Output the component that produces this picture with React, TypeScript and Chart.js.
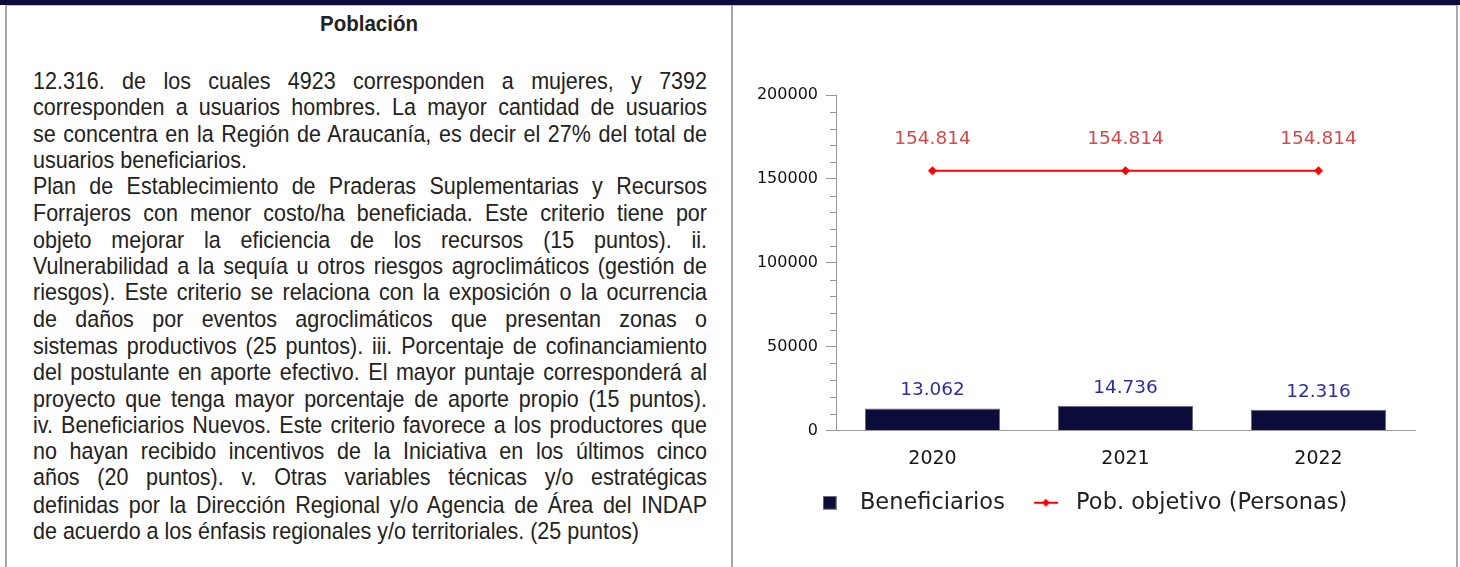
import React, { useEffect, useRef } from 'react';
import { Chart, registerables } from 'chart.js';

Chart.register(...registerables);

const categories = ['2020', '2021', '2022'];
const beneficiarios = [13062, 14736, 12316];
const pobObjetivo = [154814, 154814, 154814];
const seriesNames = ['Beneficiarios', 'Pob. objetivo (Personas)'];
const yMin = 0;
const yMax = 200000;
const yMajorStep = 50000;
const yMinorStep = 10000;

const headerTitle = 'Población';
const textLines = [
  '12.316. de los cuales 4923 corresponden a mujeres, y 7392',
  'corresponden a usuarios hombres. La mayor cantidad de usuarios',
  'se concentra en la Región de Araucanía, es decir el 27% del total de',
  'usuarios beneficiarios.',
  'Plan de Establecimiento de Praderas Suplementarias y Recursos',
  'Forrajeros con menor costo/ha beneficiada. Este criterio tiene por',
  'objeto mejorar la eficiencia de los recursos (15 puntos). ii.',
  'Vulnerabilidad a la sequía u otros riesgos agroclimáticos (gestión de',
  'riesgos). Este criterio se relaciona con la exposición o la ocurrencia',
  'de daños por eventos agroclimáticos que presentan zonas o',
  'sistemas productivos (25 puntos). iii. Porcentaje de cofinanciamiento',
  'del postulante en aporte efectivo. El mayor puntaje corresponderá al',
  'proyecto que tenga mayor porcentaje de aporte propio (15 puntos).',
  'iv. Beneficiarios Nuevos. Este criterio favorece a los productores que',
  'no hayan recibido incentivos de la Iniciativa en los últimos cinco',
  'años (20 puntos). v. Otras variables técnicas y/o estratégicas',
  'definidas por la Dirección Regional y/o Agencia de Área del INDAP',
  'de acuerdo a los énfasis regionales y/o territoriales. (25 puntos)',
];
const paragraphEndLines = [3, 17];

const BAR_COLOR = '#0c0c3a';
const LINE_COLOR = '#ff0000';
const CHART_FONT = '"DejaVu Sans", Verdana, sans-serif';

const fmt = (v: number) => String(v).replace(/\B(?=(\d{3})+(?!\d))/g, '.');

function makeSquareMarker() {
  const c = document.createElement('canvas');
  c.width = 14;
  c.height = 14;
  const g = c.getContext('2d')!;
  g.fillStyle = BAR_COLOR;
  g.fillRect(0, 0, 14, 14);
  g.strokeStyle = '#8a8a8a';
  g.lineWidth = 1;
  g.strokeRect(0.5, 0.5, 13, 13);
  return c;
}

function makeLineMarker() {
  const c = document.createElement('canvas');
  c.width = 24;
  c.height = 10;
  const g = c.getContext('2d')!;
  g.strokeStyle = LINE_COLOR;
  g.lineWidth = 2;
  g.beginPath();
  g.moveTo(0, 5);
  g.lineTo(24, 5);
  g.stroke();
  g.fillStyle = LINE_COLOR;
  g.beginPath();
  g.moveTo(12, 1);
  g.lineTo(16, 5);
  g.lineTo(12, 9);
  g.lineTo(8, 5);
  g.closePath();
  g.fill();
  return c;
}

const valueLabels = {
  id: 'valueLabels',
  afterDatasetsDraw(chart: any) {
    const ctx = chart.ctx;
    chart.data.datasets.forEach((ds: any, i: number) => {
      const meta = chart.getDatasetMeta(i);
      const isBar = meta.type === 'bar';
      meta.data.forEach((el: any, j: number) => {
        const { x, y } = el.getProps(['x', 'y'], true);
        ctx.save();
        ctx.font = `18.5px ${CHART_FONT}`;
        ctx.fillStyle = isBar ? '#2f2f9c' : '#d44a4a';
        ctx.textAlign = 'center';
        ctx.textBaseline = 'middle';
        ctx.fillText(fmt(ds.data[j]), x, y - (isBar ? 18 : 32));
        ctx.restore();
      });
    });
  },
};

const minorTicks = {
  id: 'minorTicks',
  afterDraw(chart: any) {
    const s = chart.scales.y;
    const ctx = chart.ctx;
    ctx.save();
    ctx.strokeStyle = '#999';
    ctx.lineWidth = 1;
    ctx.beginPath();
    for (let v = yMin; v <= yMax; v += yMinorStep) {
      if (v % yMajorStep === 0) continue;
      const y = Math.round(s.getPixelForValue(v)) + 0.5;
      ctx.moveTo(s.right - 6, y);
      ctx.lineTo(s.right, y);
    }
    ctx.stroke();
    ctx.restore();
  },
};

function ChartPanel() {
  const ref = useRef<HTMLCanvasElement>(null);
  useEffect(() => {
    if (!ref.current) return;
    const square = makeSquareMarker();
    const lineMarker = makeLineMarker();
    const chart = new Chart(ref.current, {
      type: 'bar',
      data: {
        labels: categories,
        datasets: [
          {
            type: 'line' as any,
            label: seriesNames[1],
            data: pobObjetivo,
            borderColor: LINE_COLOR,
            backgroundColor: LINE_COLOR,
            borderWidth: 2,
            pointStyle: 'rectRot',
            pointRadius: 4.5,
            pointBackgroundColor: LINE_COLOR,
            pointBorderWidth: 0,
            order: 1,
          } as any,
          {
            type: 'bar',
            label: seriesNames[0],
            data: beneficiarios,
            backgroundColor: BAR_COLOR,
            borderColor: '#6a6a7a',
            borderWidth: 1,
            categoryPercentage: 1,
            barPercentage: 0.7,
            order: 2,
          },
        ],
      },
      options: {
        animation: false,
        responsive: true,
        maintainAspectRatio: false,
        layout: { padding: { left: 10, right: 40, top: 89, bottom: 43 } },
        plugins: {
          tooltip: { enabled: false },
          legend: {
            position: 'bottom',
            labels: {
              usePointStyle: true,
              pointStyleWidth: 38,
              boxHeight: 14,
              padding: 22,
              color: '#222',
              font: { family: CHART_FONT, size: 22.5 },
              generateLabels: () =>
                seriesNames.map((name, i) => ({
                  text: name,
                  pointStyle: i === 0 ? square : lineMarker,
                  fillStyle: i === 0 ? BAR_COLOR : LINE_COLOR,
                  strokeStyle: i === 0 ? BAR_COLOR : LINE_COLOR,
                  lineWidth: 0,
                  hidden: false,
                  fontColor: '#222',
                  datasetIndex: i === 0 ? 1 : 0,
                })) as any,
            },
          },
        },
        scales: {
          x: {
            grid: { display: true, drawOnChartArea: false, drawTicks: false },
            border: { color: '#999', width: 1 },
            ticks: { color: '#151515', padding: 17, font: { family: CHART_FONT, size: 19 } },
            afterFit: (s: any) => {
              s.height = 39;
            },
          },
          y: {
            min: yMin,
            max: yMax,
            ticks: {
              stepSize: yMajorStep,
              color: '#111',
              padding: 8,
              font: { family: CHART_FONT, size: 16 },
              callback: (v: any) => String(v),
            },
            grid: { drawOnChartArea: false, tickLength: 10, color: '#999' },
            border: { color: '#999', width: 1 },
            afterFit: (s: any) => {
              s.width = 93;
            },
          },
        },
      },
      plugins: [valueLabels, minorTicks],
    });
    return () => chart.destroy();
  }, []);
  return <canvas ref={ref} />;
}

export default function App() {
  const gray = '#a9a9a9';
  const textScaleY = 1.09;
  const lineH = 26.5 / textScaleY;
  return (
    <div
      style={{
        position: 'fixed',
        left: 0,
        top: 0,
        width: 1460,
        height: 567,
        background: '#fff',
        overflow: 'hidden',
      }}
    >
      <div style={{ position: 'absolute', left: 0, top: 0, width: 1460, height: 5, background: '#0b0c3c' }} />
      <div style={{ position: 'absolute', left: 5, top: 5, width: 1453, height: 1, background: '#bdbdbd' }} />
      <div style={{ position: 'absolute', left: 5, top: 5, width: 2, height: 562, background: gray }} />
      <div style={{ position: 'absolute', left: 731, top: 5, width: 2, height: 562, background: gray }} />
      <div style={{ position: 'absolute', left: 1456, top: 5, width: 2, height: 562, background: gray }} />
      <div
        style={{
          position: 'absolute',
          left: 7,
          width: 724,
          top: 10,
          textAlign: 'center',
          fontFamily: '"Liberation Sans", Arial, sans-serif',
          fontWeight: 'bold',
          fontSize: 20.5,
          lineHeight: '24px',
          color: '#222',
          transform: `scaleY(${textScaleY})`,
          transformOrigin: 'center top',
        }}
      >
        {headerTitle}
      </div>
      <div
        style={{
          position: 'absolute',
          left: 33,
          top: 67.5,
          width: 674,
          fontFamily: '"Liberation Sans", Arial, sans-serif',
          fontSize: 21.5,
          lineHeight: `${lineH}px`,
          color: '#222',
          transform: `scaleY(${textScaleY})`,
          transformOrigin: 'left top',
        }}
      >
        {textLines.map((line, i) => {
          const last = paragraphEndLines.includes(i);
          return (
            <div
              key={i}
              style={{
                textAlign: last ? 'left' : 'justify',
                textAlignLast: last ? 'left' : 'justify',
                height: `${lineH}px`,
              } as any}
            >
              {line}
            </div>
          );
        })}
      </div>
      <div style={{ position: 'absolute', left: 733, top: 6, width: 722, height: 561 }}>
        <ChartPanel />
      </div>
    </div>
  );
}
